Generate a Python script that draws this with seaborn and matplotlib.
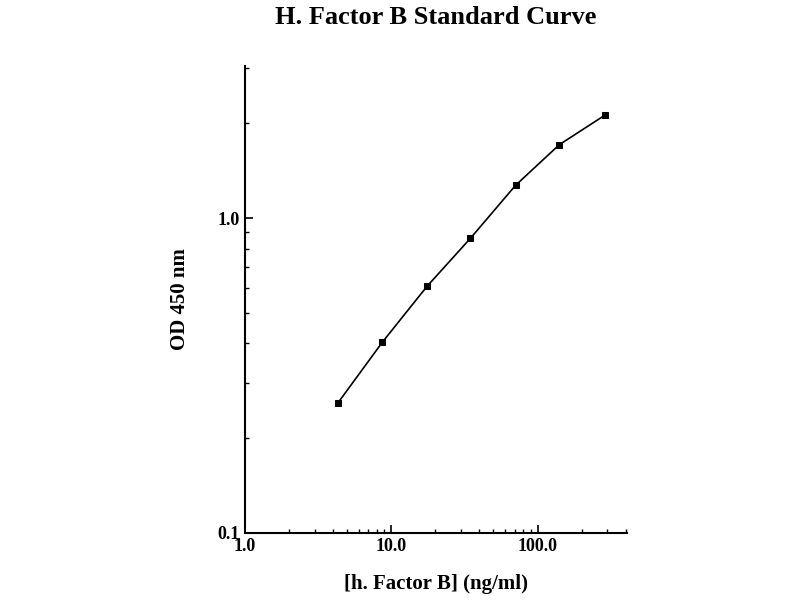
#!/usr/bin/env python3
"""Recreate the h. Factor B ELISA standard curve (log-log)."""
import matplotlib
matplotlib.use("Agg")
import matplotlib.pyplot as plt
import matplotlib.ticker as mticker
import pandas as pd
import seaborn as sns

# standard concentrations (ng/ml) and measured OD 450 nm
conc_ng_ml = [4.34, 8.7, 17.6, 34.8, 70.8, 141.0, 288.0]
od_450 = [0.259, 0.403, 0.607, 0.862, 1.27, 1.71, 2.12]

x_ticks = [1.0, 10.0, 100.0]
x_tick_labels = ["1.0", "10.0", "100.0"]
y_ticks = [0.1, 1.0]
y_tick_labels = ["0.1", "1.0"]

df = pd.DataFrame({"conc": conc_ng_ml, "od": od_450})

sns.set_theme(style="ticks")
plt.rcParams["font.family"] = ["Liberation Serif", "DejaVu Serif"]
plt.rcParams["font.weight"] = "bold"
for key in ("text.color", "axes.labelcolor", "xtick.color", "ytick.color"):
    plt.rcParams[key] = "black"

fig = plt.figure(figsize=(8, 6), dpi=100)
ax = fig.add_axes([0.306, 0.112, 0.478, 0.778])

sns.lineplot(data=df, x="conc", y="od", ax=ax, color="black", linewidth=1.2,
             marker="s", markersize=5, markeredgecolor="black", markerfacecolor="black")

ax.set_xscale("log")
ax.set_yscale("log")
ax.set_xlim(1.0, 410)
ax.set_ylim(0.1, 3.04)

ax.set_xticks(x_ticks)
ax.set_xticklabels(x_tick_labels)
ax.set_yticks(y_ticks)
ax.set_yticklabels(y_tick_labels)
ax.xaxis.set_minor_locator(mticker.LogLocator(base=10, subs=range(2, 10)))
ax.yaxis.set_minor_locator(mticker.LogLocator(base=10, subs=range(2, 10)))
ax.xaxis.set_minor_formatter(mticker.NullFormatter())
ax.yaxis.set_minor_formatter(mticker.NullFormatter())

ax.tick_params(which="major", direction="in", length=6, width=1.2, labelsize=13)
ax.tick_params(which="minor", direction="in", length=3, width=1)
for lab in ax.get_xticklabels() + ax.get_yticklabels():
    lab.set_fontweight("bold")

sns.despine(ax=ax)
for sp in ("left", "bottom"):
    ax.spines[sp].set_linewidth(1.5)
    ax.spines[sp].set_color("black")

ax.set_xlabel("[h. Factor B] (ng/ml)", fontsize=15, fontweight="bold", labelpad=14)
ax.set_ylabel("OD 450 nm", fontsize=15, fontweight="bold", labelpad=20)
fig.text(0.544, 0.99, "H. Factor B Standard Curve", ha="center", va="top",
         fontsize=19, fontweight="bold")

fig.savefig("out.png", dpi=100, facecolor="white")
